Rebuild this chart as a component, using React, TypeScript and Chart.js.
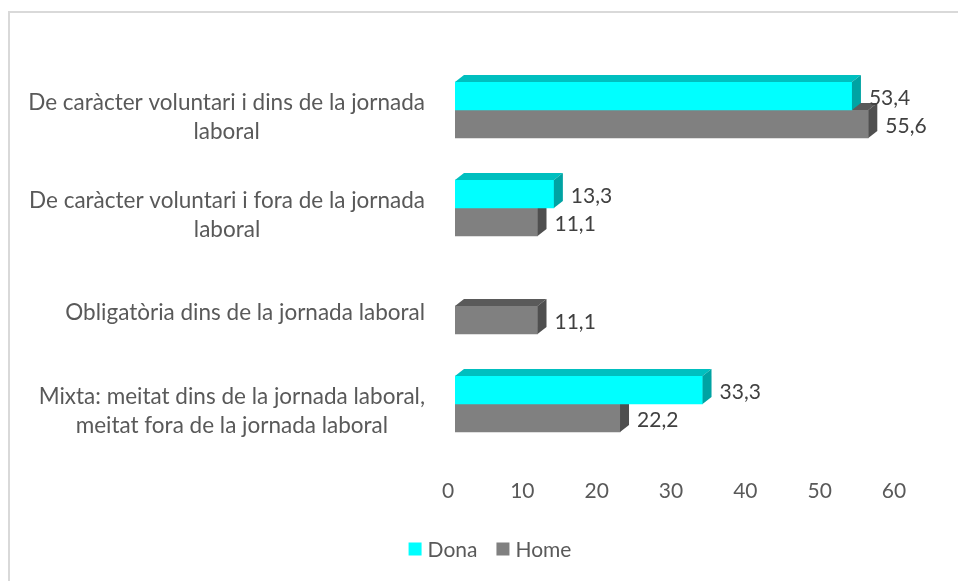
import React, { useEffect, useRef } from "react";
import { Chart, registerables } from "chart.js";

Chart.register(...registerables);

// ---- data ----
const categories: string[][] = [
  ["De caràcter voluntari i dins de la jornada", "laboral"],
  ["De caràcter voluntari i fora de la jornada", "laboral"],
  ["Obligatòria dins de la jornada laboral"],
  ["Mixta: meitat dins de la jornada laboral,", "meitat fora de la jornada laboral"],
];
const seriesNames = ["Dona", "Home"];
const donaValues: (number | null)[] = [53.4, 13.3, null, 33.3];
const homeValues: (number | null)[] = [55.6, 11.1, 11.1, 22.2];
const xTicks = [0, 10, 20, 30, 40, 50, 60];

// ---- styles ----
const FONT = "Lato";
const TEXT = "#595959";
const LABEL_TEXT = "#404040";
const frontColors = ["#00FFFF", "#808080"];
const topColors = ["#00BFBF", "#5A5A5A"];
const sideColors = ["#00A3A3", "#4F4F4F"];
const DX = 9;
const DY = 7;

const bars3d = {
  id: "bars3d",
  afterDatasetDraw(chart: any, args: any) {
    const i = args.index;
    const meta = args.meta;
    const ctx = chart.ctx;
    const ds = chart.data.datasets[i];
    meta.data.forEach((bar: any, j: number) => {
      const v = ds.data[j];
      if (v == null || v === 0) return;
      const { x, y, base, height } = bar.getProps(["x", "y", "base", "height"], true);
      const top = y - height / 2;
      const bottom = y + height / 2;
      ctx.save();
      ctx.fillStyle = topColors[i];
      ctx.beginPath();
      ctx.moveTo(base, top);
      ctx.lineTo(base + DX, top - DY);
      ctx.lineTo(x + DX, top - DY);
      ctx.lineTo(x, top);
      ctx.closePath();
      ctx.fill();
      ctx.fillStyle = sideColors[i];
      ctx.beginPath();
      ctx.moveTo(x, top);
      ctx.lineTo(x + DX, top - DY);
      ctx.lineTo(x + DX, bottom - DY);
      ctx.lineTo(x, bottom);
      ctx.closePath();
      ctx.fill();
      ctx.restore();
    });
  },
  afterDatasetsDraw(chart: any) {
    const ctx = chart.ctx;
    ctx.save();
    ctx.font = `21px ${FONT}`;
    ctx.fillStyle = LABEL_TEXT;
    ctx.textAlign = "left";
    ctx.textBaseline = "middle";
    chart.data.datasets.forEach((ds: any, i: number) => {
      const meta = chart.getDatasetMeta(i);
      meta.data.forEach((bar: any, j: number) => {
        const v = ds.data[j];
        if (v == null || v === 0) return;
        const { x, y } = bar.getProps(["x", "y"], true);
        ctx.fillText(v.toFixed(1).replace(".", ","), x + DX + 8, y + 2);
      });
    });
    ctx.restore();
  },
};

const yLabels = {
  id: "yLabels",
  afterDraw(chart: any) {
    const ctx = chart.ctx;
    const scale = chart.scales.y;
    const right = scale.right - 30;
    const lineH = 29;
    ctx.save();
    ctx.font = `22.5px ${FONT}`;
    ctx.fillStyle = TEXT;
    ctx.textAlign = "center";
    ctx.textBaseline = "middle";
    (chart.data.labels as string[][]).forEach((lines, i) => {
      const cy = scale.getPixelForTick(i) + 7;
      const maxW = Math.max(...lines.map((l) => ctx.measureText(l).width));
      const cx = right - maxW / 2;
      lines.forEach((l, k) => {
        ctx.fillText(l, cx, cy + (k - (lines.length - 1) / 2) * lineH);
      });
    });
    ctx.restore();
  },
};

const customLegend = {
  id: "customLegend",
  afterDraw(chart: any) {
    const ctx = chart.ctx;
    ctx.save();
    ctx.font = `21px ${FONT}`;
    ctx.textBaseline = "middle";
    ctx.textAlign = "left";
    const box = 13;
    const gap = 6;
    const itemGap = 19;
    const items = chart.data.datasets.map((d: any) => ({ text: d.label, color: d.backgroundColor }));
    const widths = items.map((it: any) => box + gap + ctx.measureText(it.text).width);
    const total = widths.reduce((a: number, b: number) => a + b, 0) + itemGap * (items.length - 1);
    let x = 490 - total / 2;
    const cy = 549;
    items.forEach((it: any, k: number) => {
      ctx.fillStyle = it.color;
      ctx.fillRect(x, cy - box / 2, box, box);
      ctx.fillStyle = TEXT;
      ctx.fillText(it.text, x + box + gap, cy + 1);
      x += widths[k] + itemGap;
    });
    ctx.restore();
  },
};

export default function App() {
  const ref = useRef<HTMLCanvasElement | null>(null);
  useEffect(() => {
    if (!ref.current) return;
    Chart.defaults.font.family = FONT;
    const chart = new Chart(ref.current, {
      type: "bar",
      data: {
        labels: categories as any,
        datasets: [
          { label: seriesNames[0], data: donaValues, backgroundColor: frontColors[0], barThickness: 28 },
          { label: seriesNames[1], data: homeValues, backgroundColor: frontColors[1], barThickness: 28 },
        ],
      },
      options: {
        indexAxis: "y",
        responsive: false,
        animation: false,
        devicePixelRatio: 1,
        layout: { padding: { top: 61, right: 57, left: 0, bottom: 0 } },
        plugins: { legend: { display: false }, tooltip: { enabled: false } },
        scales: {
          x: {
            min: 0,
            max: 60,
            position: "bottom",
            grid: { display: false, drawTicks: false },
            border: { display: false },
            ticks: {
              color: TEXT,
              font: { size: 21, family: FONT },
              labelOffset: -7,
              padding: 26,
              maxRotation: 0,
              autoSkip: false,
            },
            afterBuildTicks: (s: any) => {
              s.ticks = xTicks.map((v) => ({ value: v }));
            },
            afterFit: (s: any) => {
              s.height = 128;
            },
          },
          y: {
            grid: { display: false },
            border: { display: false },
            ticks: { display: false },
            afterFit: (s: any) => {
              s.width = 455;
            },
          },
        },
      } as any,
      plugins: [bars3d, yLabels, customLegend],
    });
    return () => chart.destroy();
  }, []);

  return (
    <div style={{ position: "fixed", left: 0, top: 0, width: 958, height: 581, background: "#fff" }}>
      <div
        style={{
          position: "absolute",
          left: 8,
          top: 11,
          width: 950,
          height: 570,
          borderTop: "2px solid #D9D9D9",
          borderLeft: "2px solid #D9D9D9",
        }}
      />
      <canvas ref={ref} width={958} height={581} style={{ position: "absolute", left: 0, top: 0, display: "block" }} />
    </div>
  );
}
